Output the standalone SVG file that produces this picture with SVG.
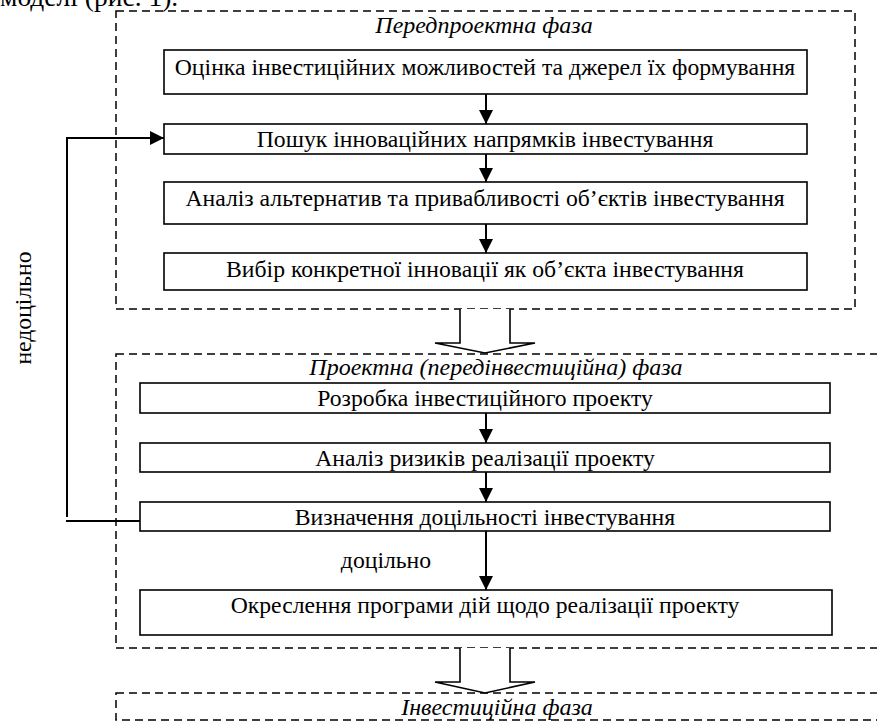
<svg xmlns="http://www.w3.org/2000/svg" width="877" height="723" viewBox="0 0 877 723">
<style>
text{font-family:"Liberation Serif","Times New Roman",serif;font-size:23.7px;fill:#000}
.it{font-style:italic;font-size:24px}
.box{fill:#fff;stroke:#000;stroke-width:1.6}
.phase{fill:none;stroke:#000;stroke-width:1.5;stroke-dasharray:8 5}
.ln{fill:none;stroke:#000;stroke-width:2}
.blk{fill:#fff;stroke:#000;stroke-width:1.6}
</style>
<defs>
<marker id="ah" markerUnits="userSpaceOnUse" markerWidth="16" markerHeight="16" refX="14" refY="7" orient="auto">
<path d="M0,0 L14,7 L0,14 Z" fill="#000"/>
</marker>
</defs>
<rect width="877" height="723" fill="#fff"/>
<text x="0" y="6" style="font-size:27.5px">моделі (рис. 1).</text>

<g id="phase1">
<rect class="phase" x="116" y="11" width="739" height="298"/>
<text class="it" x="484" y="33" text-anchor="middle">Передпроектна фаза</text>
</g>
<g id="phase2">
<rect class="phase" x="116" y="354" width="780" height="294"/>
<text class="it" x="496" y="375" text-anchor="middle">Проектна (передінвестиційна) фаза</text>
</g>
<g id="phase3">
<rect class="phase" x="116" y="693" width="780" height="27"/>
<text class="it" x="497" y="715" text-anchor="middle">Інвестиційна фаза</text>
</g>

<g id="n1"><rect class="box" x="164" y="50" width="643" height="44"/><text x="485" y="75" text-anchor="middle">Оцінка інвестиційних можливостей та джерел їх формування</text></g>
<g id="n2"><rect class="box" x="164" y="124" width="643" height="30"/><text x="485" y="147" text-anchor="middle">Пошук інноваційних напрямків інвестування</text></g>
<g id="n3"><rect class="box" x="164" y="182" width="643" height="42"/><text x="485" y="206" text-anchor="middle">Аналіз альтернатив та привабливості об’єктів інвестування</text></g>
<g id="n4"><rect class="box" x="164" y="253" width="643" height="37"/><text x="485" y="277" text-anchor="middle">Вибір конкретної інновації як об’єкта інвестування</text></g>
<g id="n5"><rect class="box" x="140" y="383" width="690" height="30"/><text x="485" y="406" text-anchor="middle">Розробка інвестиційного проекту</text></g>
<g id="n6"><rect class="box" x="140" y="443" width="690" height="29"/><text x="485" y="466" text-anchor="middle">Аналіз ризиків реалізації проекту</text></g>
<g id="n7"><rect class="box" x="140" y="502" width="690" height="29"/><text x="485" y="525" text-anchor="middle">Визначення доцільності інвестування</text></g>
<g id="n8"><rect class="box" x="140" y="590" width="692" height="45"/><text x="485" y="613" text-anchor="middle">Окреслення програми дій щодо реалізації проекту</text></g>

<g id="connectors">
<line class="ln" x1="486" y1="94" x2="486" y2="124" marker-end="url(#ah)"/>
<line class="ln" x1="486" y1="154" x2="486" y2="182" marker-end="url(#ah)"/>
<line class="ln" x1="486" y1="224" x2="486" y2="253" marker-end="url(#ah)"/>
<line class="ln" x1="486" y1="413" x2="486" y2="443" marker-end="url(#ah)"/>
<line class="ln" x1="486" y1="472" x2="486" y2="502" marker-end="url(#ah)"/>
<line class="ln" x1="486" y1="531" x2="486" y2="590" marker-end="url(#ah)"/>
<polyline class="ln" points="140,521 66,521"/>
<polyline class="ln" points="67,517 67,138 164,138" marker-end="url(#ah)"/>
<polyline class="blk" points="460,309 460,343 435,343 485,353 535,343 510,343 510,309"/>
<polyline class="blk" points="460,648 460,682 435,682 485,693 535,682 510,682 510,648"/>
<text x="386" y="568" text-anchor="middle">доцільно</text>
<text transform="translate(31,308) rotate(-90)" text-anchor="middle">недоцільно</text>
</g>
</svg>
